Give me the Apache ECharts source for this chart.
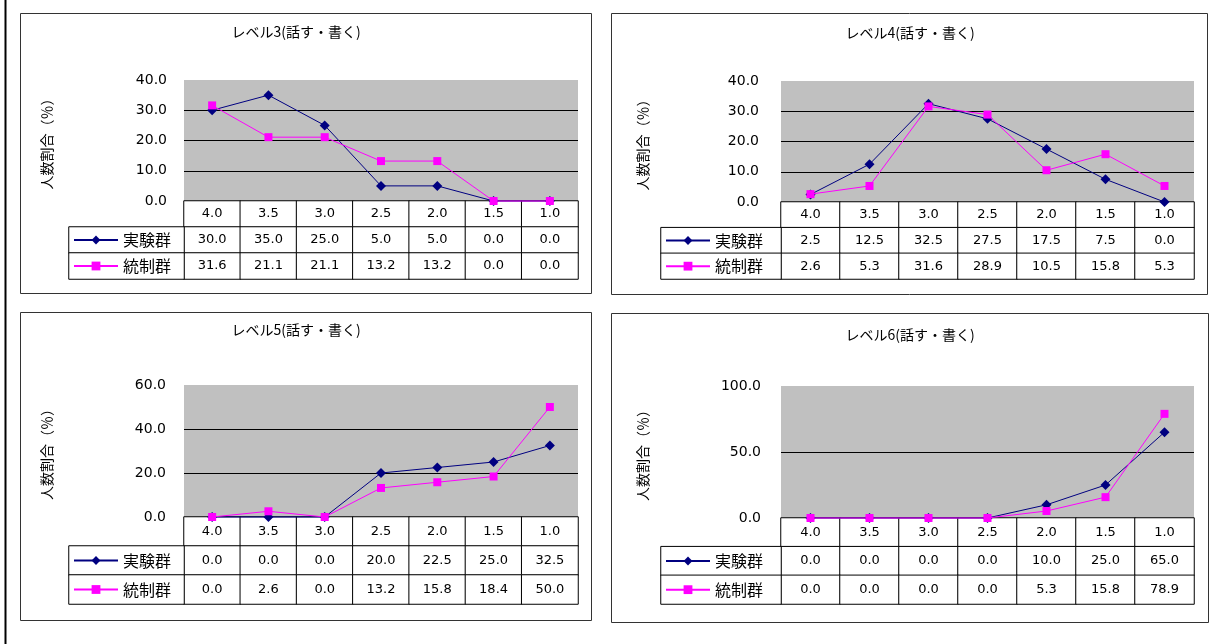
<!DOCTYPE html>
<html>
<head>
<meta charset="utf-8">
<title>レベル別 人数割合</title>
<script src="https://cdn.jsdelivr.net/npm/echarts@6/dist/echarts.min.js"></script>
<style>
  html, body { margin: 0; padding: 0; background: #ffffff; }
  #chart { width: 1223px; height: 644px; }
</style>
</head>
<body>
<div id="chart"></div>
<script>
// ---- data ----
const categories = ['4.0', '3.5', '3.0', '2.5', '2.0', '1.5', '1.0'];
const groupNames = ['実験群', '統制群'];
const panelTitles = ['レベル3(話す・書く)', 'レベル4(話す・書く)', 'レベル5(話す・書く)', 'レベル6(話す・書く)'];
const yAxisTitle = '人数割合（％）';

const level3Exp  = [30.0, 35.0, 25.0, 5.0, 5.0, 0.0, 0.0];
const level3Ctrl = [31.6, 21.1, 21.1, 13.2, 13.2, 0.0, 0.0];
const level4Exp  = [2.5, 12.5, 32.5, 27.5, 17.5, 7.5, 0.0];
const level4Ctrl = [2.6, 5.3, 31.6, 28.9, 10.5, 15.8, 5.3];
const level5Exp  = [0.0, 0.0, 0.0, 20.0, 22.5, 25.0, 32.5];
const level5Ctrl = [0.0, 2.6, 0.0, 13.2, 15.8, 18.4, 50.0];
const level6Exp  = [0.0, 0.0, 0.0, 0.0, 10.0, 25.0, 65.0];
const level6Ctrl = [0.0, 0.0, 0.0, 0.0, 5.3, 15.8, 78.9];

const yMaxes = [40, 40, 60, 100];
const ySteps = [10, 10, 20, 50];

const panelValues = [
  [level3Exp, level3Ctrl],
  [level4Exp, level4Ctrl],
  [level5Exp, level5Ctrl],
  [level6Exp, level6Ctrl]
];

// ---- layout (pixels) ----
const layouts = [
  { frame: [20, 13, 571, 280],  titleX: 296, titleY: 32,  plot: [184, 80, 394, 121],  tableBottom: 279, legendLeft: 69,  nameGap: 130, labelMargin: 17 },
  { frame: [611, 13, 596, 281], titleX: 910, titleY: 33,  plot: [781, 81, 413, 121],  tableBottom: 279, legendLeft: 661, nameGap: 131, labelMargin: 22 },
  { frame: [20, 312, 571, 308], titleX: 296, titleY: 330, plot: [184, 385, 394, 132], tableBottom: 604, legendLeft: 69,  nameGap: 130, labelMargin: 18 },
  { frame: [611, 313, 597, 309], titleX: 910, titleY: 335, plot: [781, 386, 413, 132], tableBottom: 604, legendLeft: 661, nameGap: 131, labelMargin: 20 }
];

const lineColors = ['#000080', '#ff00ff'];
const symbols = ['diamond', 'rect'];
const symbolSizes = [10, 8];
const numFont = 'DejaVu Sans';
const jpFont = 'Noto Sans CJK JP';

const option = {
  animation: false,
  backgroundColor: '#ffffff',
  title: [],
  legend: [],
  grid: [],
  xAxis: [],
  yAxis: [],
  series: [],
  graphic: []
};

// outer rule on the left edge of the page
option.graphic.push({
  type: 'line',
  shape: { x1: 5.5, y1: 0, x2: 5.5, y2: 644 },
  style: { stroke: '#000', lineWidth: 2 },
  silent: true
});

layouts.forEach((L, p) => {
  const [pl, pt, pw, ph] = L.plot;
  const tableTop = pt + ph;
  const tableH = L.tableBottom - tableTop;
  const rowH = tableH / 3;

  // chart frame
  option.graphic.push({
    type: 'rect',
    shape: { x: L.frame[0] + 0.5, y: L.frame[1] + 0.5, width: L.frame[2], height: L.frame[3] },
    style: { fill: 'none', stroke: '#333', lineWidth: 1 },
    silent: true
  });

  option.title.push({
    text: panelTitles[p],
    left: L.titleX,
    top: L.titleY,
    padding: 0,
    textAlign: 'center',
    textVerticalAlign: 'middle',
    textStyle: { fontFamily: jpFont, fontSize: 14, fontWeight: 'normal', color: '#000' }
  });

  const g = p * 3;
  // plot area
  option.grid.push({
    left: pl, top: pt, width: pw, height: ph,
    show: true, backgroundColor: '#c0c0c0', borderWidth: 0
  });
  // data table
  option.grid.push({ left: pl, top: tableTop, width: pw, height: tableH });
  // legend column of the data table
  option.grid.push({ left: L.legendLeft, top: tableTop + rowH, width: pl - L.legendLeft, height: rowH * 2 });

  const nLines = Math.round(yMaxes[p] / ySteps[p]) + 1;
  const splitColors = [];
  for (let i = 0; i < nLines; i++) splitColors.push(i === nLines - 1 ? '#c0c0c0' : '#000');

  option.xAxis.push(
    { type: 'category', gridIndex: g, data: categories, boundaryGap: true, show: false },
    { type: 'category', gridIndex: g + 1, data: categories, boundaryGap: true, show: false },
    { type: 'category', gridIndex: g + 2, data: ['legend'], boundaryGap: true, show: false }
  );
  option.yAxis.push(
    {
      type: 'value', gridIndex: g, min: 0, max: yMaxes[p], interval: ySteps[p],
      name: yAxisTitle, nameLocation: 'middle', nameRotate: 90, nameGap: L.nameGap,
      nameTextStyle: { fontFamily: jpFont, fontSize: 14, color: '#000' },
      axisLine: { show: false }, axisTick: { show: false },
      axisLabel: {
        margin: L.labelMargin, fontFamily: numFont, fontSize: 14, color: '#000',
        formatter: v => v.toFixed(1)
      },
      splitLine: { show: true, lineStyle: { color: splitColors, width: 1 } }
    },
    { type: 'category', gridIndex: g + 1, data: ['cat', 'exp', 'ctrl'], inverse: true, show: false },
    { type: 'category', gridIndex: g + 2, data: ['exp', 'ctrl'], inverse: true, show: false }
  );

  // table cells: category row, then one row per group
  const cells = [];
  categories.forEach((c, i) => cells.push({ value: [i, 0, 0], text: c }));
  panelValues[p].forEach((vals, r) => {
    vals.forEach((v, i) => cells.push({ value: [i, r + 1, v], text: v.toFixed(1) }));
  });
  option.series.push({
    type: 'heatmap',
    xAxisIndex: g + 1, yAxisIndex: g + 1,
    data: cells,
    itemStyle: { color: '#fff', borderColor: '#000', borderWidth: 1 },
    label: {
      show: true, color: '#000', fontFamily: numFont, fontSize: 13,
      formatter: prm => prm.data.text
    },
    emphasis: { disabled: true },
    silent: true
  });
  option.series.push({
    type: 'heatmap',
    xAxisIndex: g + 2, yAxisIndex: g + 2,
    data: [[0, 0, 0], [0, 1, 0]],
    itemStyle: { color: '#fff', borderColor: '#000', borderWidth: 1 },
    label: { show: false },
    emphasis: { disabled: true },
    silent: true
  });

  // lines
  groupNames.forEach((name, k) => {
    option.series.push({
      type: 'line',
      name: name,
      xAxisIndex: g, yAxisIndex: g,
      data: panelValues[p][k],
      clip: false,
      symbol: symbols[k],
      symbolSize: symbolSizes[k],
      showAllSymbol: true,
      lineStyle: { color: lineColors[k], width: 1 },
      itemStyle: { color: lineColors[k] },
      emphasis: { disabled: true },
      z: 3 + k
    });
  });

  // legend keys inside the table's left column, one per row
  groupNames.forEach((name, k) => {
    const rowCenter = tableTop + rowH * (k + 1.5);
    option.legend.push({
      data: [name],
      left: L.legendLeft + 4,
      top: rowCenter - 8,
      padding: 0,
      itemWidth: 44,
      itemHeight: 11,
      selectedMode: false,
      textStyle: { fontFamily: jpFont, fontSize: 16, lineHeight: 16, color: '#000' },
      z: 10
    });
  });
});

const chart = echarts.init(document.getElementById('chart'), null, { renderer: 'canvas' });
chart.setOption(option);
</script>
</body>
</html>
